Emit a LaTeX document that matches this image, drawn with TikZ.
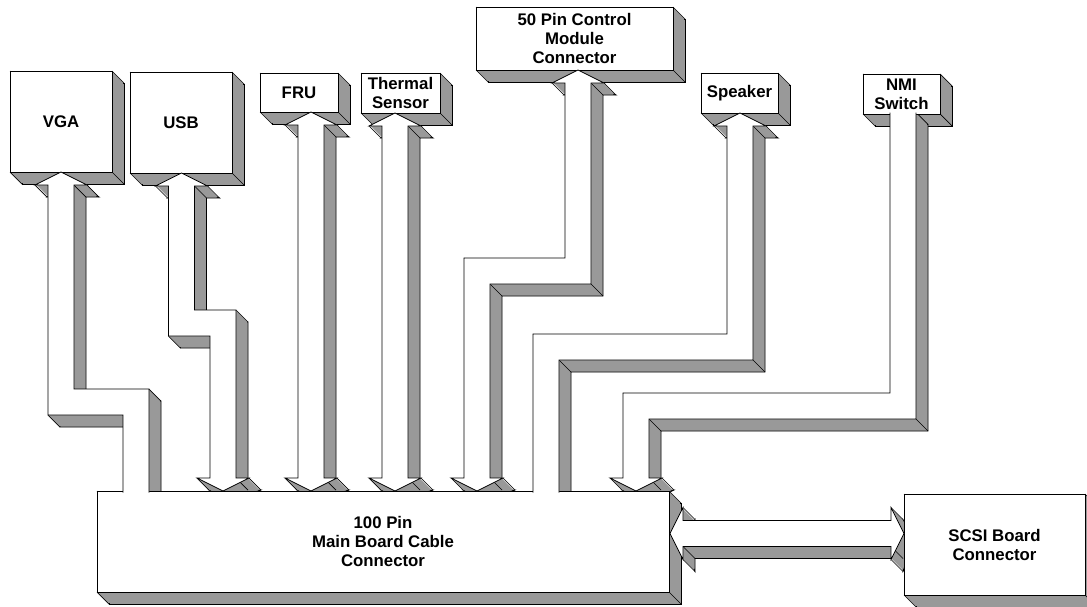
\documentclass[tikz,border=0pt]{standalone}
\usepackage{fontspec}
\setmainfont{Liberation Sans}

\pgfdeclarelayer{back}
\pgfsetlayers{back,main}

\tikzset{
  rim/.style={draw=black, line width=0.7pt},
  sidefill/.style={fill=black!40},
  unit/.style={rectangle, draw=black, fill=white, line width=0.7pt, inner sep=0pt,
    align=center, font=\bfseries\fontsize{16.8}{19}\selectfont}
}

% extruded side faces of a flat shape, list of x/y corners
\newcommand{\slabback}[1]{%
  \gdef\slabpath{}%
  \foreach \x/\y [count=\i] in {#1}{%
    \ifnum\i=1 \xdef\slabpath{(\x,\y)}\else \xdef\slabpath{\slabpath -- (\x,\y)}\fi}%
  \begin{pgfonlayer}{back}
    \filldraw[sidefill, rim, shift={(12,12)}] \slabpath -- cycle;
    \foreach \s in {0,...,11} \fill[sidefill, shift={(\s,\s)}] \slabpath -- cycle;
    \foreach \x/\y in {#1} \draw[rim] (\x,\y) -- ++(12,12);
  \end{pgfonlayer}}
\newcommand{\slab}[1]{\slabback{#1}\filldraw[fill=white, rim] \slabpath -- cycle;}
\newcommand{\slabopen}[1]{\slabback{#1}\fill[white] \slabpath -- cycle; \draw[rim] \slabpath;}
\newcommand{\unitbox}[6]{%
  \slabback{#2/#3,#4/#3,#4/#5,#2/#5}%
  \node[unit, minimum width={#4-#2}, minimum height={#5-#3}] (#1)
    at ({(#2+#4)/2},{(#3+#5)/2}) {#6};}

\begin{document}
\begin{tikzpicture}[x=1pt, y=-1pt]
    \useasboundingbox (0,0) rectangle (1087,606);
    \begin{pgfonlayer}{back}
      \fill[white] (0,0) rectangle (1087,606);
    \end{pgfonlayer}

    % Boxes
    \unitbox{vga}{10}{71}{112}{172}{VGA}
    \unitbox{usb}{130}{72}{232}{173}{USB}
    \unitbox{fru}{260}{73}{338}{112}{FRU}
    \unitbox{thermal}{361}{73}{440}{113}{Thermal\\Sensor}
    \unitbox{ctrl}{476}{7}{673}{70}{50 Pin Control\\Module\\Connector}
    \unitbox{speaker}{701}{73}{778}{113}{Speaker}
    \unitbox{nmi}{863}{74}{940}{114}{NMI\\Switch}
    \unitbox{mainbrd}{97}{491}{669}{592}{100 Pin\\Main Board Cable\\Connector}
    \unitbox{scsi}{904}{494}{1085}{595}{SCSI Board\\Connector}

    % Arrows to the main board connector
    \slabopen{123/492.5, 123/415, 48/415, 48/185, 35/185, 61/172, 87/185, 74/185, 74/389, 149/389, 149/492.5}
    \slab{181.5/173, 207.5/186, 194.5/186, 194.5/310, 236/310, 236/478, 249/478, 223/491, 197/478, 210/478, 210/336, 168.5/336, 168.5/186, 155.5/186}
    \slab{311/112, 337/125, 324/125, 324/478, 337/478, 311/491, 285/478, 298/478, 298/125, 285/125}
    \slab{395/113, 421/126, 408/126, 408/478, 421/478, 395/491, 369/478, 382/478, 382/126, 369/126}
    \slab{578/70, 604/83, 591/83, 591/284, 490/284, 490/478, 503/478, 477/491, 451/478, 464/478, 464/258, 565/258, 565/83, 552/83}
    \slabopen{533/492.5, 533/334, 727/334, 727/126, 714/126, 740/113, 766/126, 753/126, 753/360, 559/360, 559/492.5}
    \slabopen{916/112.5, 916/419, 649/419, 649/478, 662/478, 636/491, 610/478, 623/478, 623/393, 890/393, 890/112.5}

    % SCSI link
    \slab{670/533.5, 683/507.5, 683/520.5, 891/520.5, 891/507.5, 904/533.5, 891/559.5, 891/546.5, 683/546.5, 683/559.5}
\end{tikzpicture}
\end{document}
